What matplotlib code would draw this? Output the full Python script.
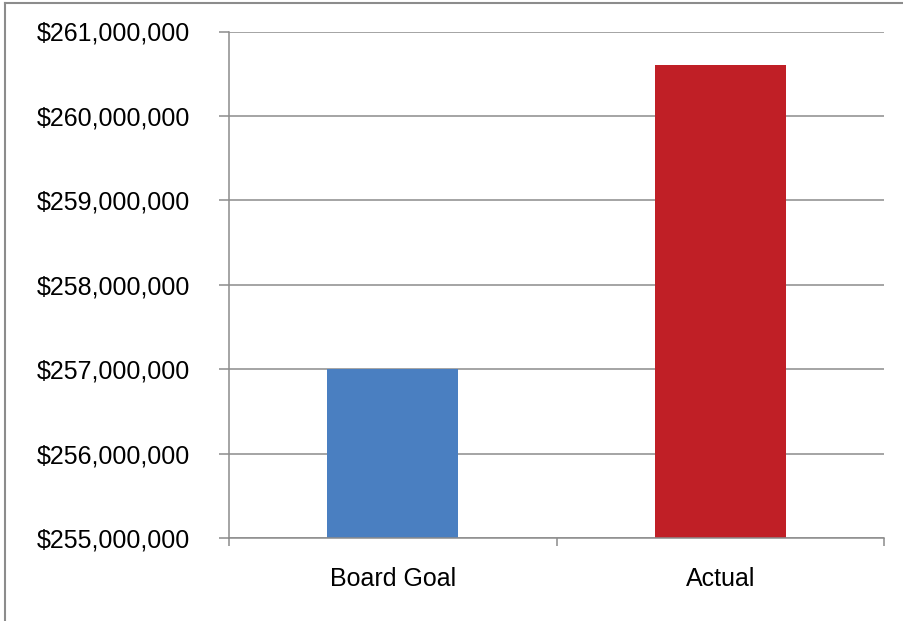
import matplotlib
matplotlib.use("Agg")
import matplotlib.pyplot as plt
from matplotlib.lines import Line2D
from matplotlib.ticker import FuncFormatter

categories = ["Board Goal", "Actual"]
amounts = [257000000, 260600000]
bar_colors = ["#4a7fc1", "#c01f26"]
y_ticks = [255000000, 256000000, 257000000, 258000000, 259000000, 260000000, 261000000]

plt.rcParams["font.family"] = ["Liberation Sans", "DejaVu Sans"]
grey = "#8c8c8c"

fig = plt.figure(figsize=(9.04, 6.21), dpi=100)
ax = fig.add_axes([229 / 904, 1 - 538 / 621, (884 - 229) / 904, (538 - 31.5) / 621])

x = range(len(categories))
ax.bar(x, amounts, width=0.4, color=bar_colors, zorder=3)

ax.set_xlim(-0.5, 1.5)
ax.set_ylim(y_ticks[0], y_ticks[-1])
ax.set_yticks(y_ticks)
ax.yaxis.set_major_formatter(FuncFormatter(lambda v, p: "${:,.0f}".format(v)))
ax.set_xticks(list(x))
ax.set_xticklabels(categories)
ax.set_xticks([-0.5, 0.5, 1.5], minor=True)

ax.grid(axis="y", color=grey, linewidth=1.1, zorder=0)
for side in ["top", "right"]:
    ax.spines[side].set_visible(False)
for side in ["left", "bottom"]:
    ax.spines[side].set_color(grey)
    ax.spines[side].set_linewidth(1.1)
    ax.spines[side].set_zorder(4)

ax.tick_params(axis="y", length=7, width=1.1, color=grey, labelsize=18, pad=21)
ax.tick_params(axis="x", which="major", length=0, labelsize=18, pad=21)
ax.tick_params(axis="x", which="minor", length=5.5, width=1.1, color=grey)

# outer frame (left and top edges only)
fig.add_artist(Line2D([5.5 / 904, 5.5 / 904], [0, 1 - 3 / 621], color=grey,
                      linewidth=1.5, transform=fig.transFigure))
fig.add_artist(Line2D([5.5 / 904, 1], [1 - 3 / 621, 1 - 3 / 621], color=grey,
                      linewidth=1.5, transform=fig.transFigure))

fig.savefig("out.png", dpi=100)
